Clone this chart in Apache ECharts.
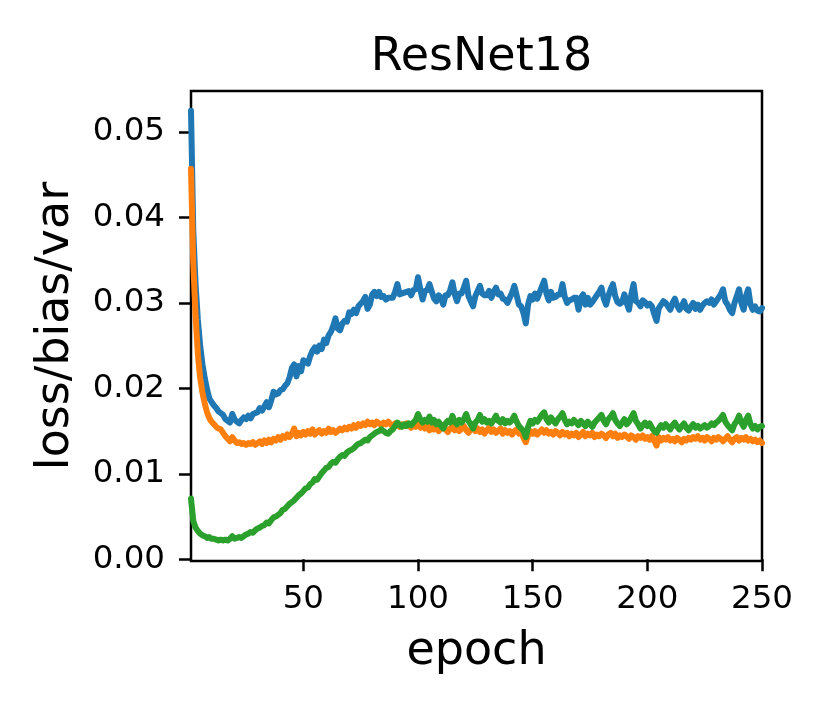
<!DOCTYPE html>
<html>
<head>
<meta charset="utf-8">
<script src="https://cdn.jsdelivr.net/npm/echarts@6/dist/echarts.min.js"></script>
<style>
  html, body { margin: 0; padding: 0; background: #fff; }
  #chart { width: 830px; height: 712px; }
</style>
</head>
<body>
<div id="chart"></div>
<script>
// ResNet18: loss = bias + var, one value per epoch (1..250)
const title = 'ResNet18'
const xTicks = [50, 100, 150, 200, 250]
const yTicks = [0, 0.01, 0.02, 0.03, 0.04, 0.05]

const loss = [
  0.0525, 0.0385, 0.0322, 0.0280, 0.0250, 0.0228, 0.0212, 0.0199, 0.0188, 0.0184,
  0.0180, 0.0177, 0.0173, 0.0171, 0.0169, 0.0164, 0.0162, 0.0160, 0.0170, 0.0164,
  0.0161, 0.0159, 0.0163, 0.0166, 0.0164, 0.0168, 0.0165, 0.0170, 0.0171, 0.0172,
  0.0177, 0.0174, 0.0179, 0.0184, 0.0178, 0.0186, 0.0196, 0.0193, 0.0194, 0.0198,
  0.0199, 0.0203, 0.0206, 0.0213, 0.0224, 0.0228, 0.0214, 0.0226, 0.0220, 0.0233,
  0.0231, 0.0229, 0.0238, 0.0244, 0.0248, 0.0243, 0.0250, 0.0246, 0.0257, 0.0253,
  0.0262, 0.0266, 0.0273, 0.0282, 0.0270, 0.0268, 0.0276, 0.0279, 0.0278, 0.0289,
  0.0287, 0.0292, 0.0288, 0.0296, 0.0299, 0.0302, 0.0307, 0.0293, 0.0298, 0.0310,
  0.0313, 0.0308, 0.0313, 0.0307, 0.0308, 0.0304, 0.0306, 0.0306, 0.0306, 0.0313,
  0.0322, 0.0310, 0.0311, 0.0312, 0.0313, 0.0314, 0.0309, 0.0315, 0.0316, 0.0330,
  0.0316, 0.0304, 0.0314, 0.0315, 0.0322, 0.0313, 0.0305, 0.0302, 0.0309, 0.0306,
  0.0298, 0.0309, 0.0309, 0.0315, 0.0324, 0.0310, 0.0302, 0.0311, 0.0311, 0.0318,
  0.0326, 0.0308, 0.0302, 0.0296, 0.0308, 0.0314, 0.0320, 0.0311, 0.0309, 0.0309,
  0.0314, 0.0306, 0.0313, 0.0318, 0.0310, 0.0311, 0.0305, 0.0304, 0.0300, 0.0306,
  0.0312, 0.0320, 0.0309, 0.0298, 0.0296, 0.0288, 0.0276, 0.0298, 0.0308, 0.0304,
  0.0311, 0.0305, 0.0312, 0.0319, 0.0326, 0.0311, 0.0303, 0.0313, 0.0306, 0.0307,
  0.0310, 0.0310, 0.0322, 0.0307, 0.0300, 0.0303, 0.0304, 0.0306, 0.0306, 0.0292,
  0.0306, 0.0310, 0.0298, 0.0306, 0.0298, 0.0301, 0.0305, 0.0309, 0.0313, 0.0318,
  0.0305, 0.0298, 0.0308, 0.0316, 0.0322, 0.0308, 0.0301, 0.0299, 0.0301, 0.0310,
  0.0300, 0.0292, 0.0310, 0.0322, 0.0302, 0.0300, 0.0296, 0.0303, 0.0301, 0.0297,
  0.0299, 0.0296, 0.0287, 0.0279, 0.0294, 0.0298, 0.0302, 0.0300, 0.0296, 0.0292,
  0.0300, 0.0305, 0.0297, 0.0292, 0.0296, 0.0302, 0.0293, 0.0291, 0.0296, 0.0300,
  0.0293, 0.0298, 0.0292, 0.0297, 0.0300, 0.0302, 0.0300, 0.0304, 0.0298, 0.0302,
  0.0306, 0.0310, 0.0316, 0.0302, 0.0298, 0.0292, 0.0288, 0.0300, 0.0308, 0.0316,
  0.0300, 0.0292, 0.0308, 0.0316, 0.0298, 0.0292, 0.0296, 0.0291, 0.0290, 0.0294,
]

const bias = [
  0.0457, 0.0345, 0.0285, 0.0240, 0.0212, 0.0195, 0.0182, 0.0172, 0.0165, 0.0161,
  0.0158, 0.0155, 0.0153, 0.0152, 0.0148, 0.0144, 0.0141, 0.0138, 0.0143, 0.0139,
  0.0136, 0.0137, 0.0135, 0.0136, 0.0134, 0.0136, 0.0135, 0.0137, 0.0134, 0.0136,
  0.0138, 0.0135, 0.0139, 0.0136, 0.0140, 0.0137, 0.0141, 0.0139, 0.0143, 0.0140,
  0.0144, 0.0142, 0.0146, 0.0143, 0.0147, 0.0153, 0.0144, 0.0148, 0.0145, 0.0149,
  0.0146, 0.0150, 0.0147, 0.0152, 0.0146, 0.0149, 0.0151, 0.0147, 0.0150, 0.0148,
  0.0153, 0.0149, 0.0151, 0.0148, 0.0150, 0.0153, 0.0151, 0.0154, 0.0152, 0.0155,
  0.0153, 0.0157, 0.0154, 0.0158, 0.0156, 0.0159, 0.0157, 0.0161, 0.0158, 0.0160,
  0.0157, 0.0161, 0.0159, 0.0157, 0.0160, 0.0158, 0.0161, 0.0158, 0.0156, 0.0159,
  0.0157, 0.0155, 0.0158, 0.0156, 0.0159, 0.0157, 0.0154, 0.0157, 0.0155, 0.0158,
  0.0154, 0.0157, 0.0153, 0.0156, 0.0151, 0.0155, 0.0152, 0.0156, 0.0150, 0.0154,
  0.0157, 0.0152, 0.0149, 0.0153, 0.0155, 0.0151, 0.0154, 0.0150, 0.0153, 0.0156,
  0.0151, 0.0148, 0.0152, 0.0155, 0.0150, 0.0153, 0.0149, 0.0152, 0.0147, 0.0151,
  0.0154, 0.0149, 0.0152, 0.0148, 0.0150, 0.0153, 0.0147, 0.0151, 0.0148, 0.0150,
  0.0146, 0.0150, 0.0152, 0.0147, 0.0149, 0.0142, 0.0137, 0.0145, 0.0150, 0.0147,
  0.0150, 0.0146, 0.0149, 0.0152, 0.0148, 0.0151, 0.0147, 0.0149, 0.0146, 0.0150,
  0.0148, 0.0145, 0.0149, 0.0146, 0.0148, 0.0144, 0.0147, 0.0145, 0.0148, 0.0143,
  0.0146, 0.0149, 0.0144, 0.0147, 0.0145, 0.0148, 0.0143, 0.0146, 0.0144, 0.0147,
  0.0145, 0.0142, 0.0146, 0.0148, 0.0144, 0.0147, 0.0142, 0.0145, 0.0143, 0.0146,
  0.0144, 0.0141, 0.0145, 0.0143, 0.0140, 0.0144, 0.0142, 0.0145, 0.0141, 0.0143,
  0.0140, 0.0144, 0.0139, 0.0133, 0.0143, 0.0139, 0.0142, 0.0140, 0.0143, 0.0139,
  0.0141, 0.0138, 0.0142, 0.0140, 0.0137, 0.0141, 0.0139, 0.0142, 0.0140, 0.0143,
  0.0141, 0.0144, 0.0140, 0.0142, 0.0139, 0.0143, 0.0141, 0.0138, 0.0142, 0.0140,
  0.0143, 0.0141, 0.0138, 0.0141, 0.0144, 0.0140, 0.0137, 0.0141, 0.0143, 0.0139,
  0.0142, 0.0140, 0.0143, 0.0139, 0.0141, 0.0138, 0.0140, 0.0137, 0.0139, 0.0136,
]

const variance = [
  0.0071, 0.0045, 0.0037, 0.0033, 0.0030, 0.0028, 0.0027, 0.0025, 0.0026, 0.0024,
  0.0024, 0.0023, 0.0022, 0.0023, 0.0022, 0.0023, 0.0022, 0.0024, 0.0027, 0.0024,
  0.0025, 0.0026, 0.0025, 0.0027, 0.0029, 0.0030, 0.0032, 0.0031, 0.0034, 0.0036,
  0.0037, 0.0039, 0.0040, 0.0043, 0.0042, 0.0046, 0.0049, 0.0050, 0.0052, 0.0054,
  0.0058, 0.0059, 0.0062, 0.0065, 0.0067, 0.0069, 0.0072, 0.0075, 0.0077, 0.0080,
  0.0083, 0.0084, 0.0088, 0.0090, 0.0094, 0.0093, 0.0097, 0.0101, 0.0104, 0.0107,
  0.0108, 0.0112, 0.0114, 0.0113, 0.0117, 0.0120, 0.0122, 0.0121, 0.0125, 0.0127,
  0.0128, 0.0130, 0.0133, 0.0135, 0.0136, 0.0138, 0.0140, 0.0139, 0.0143, 0.0145,
  0.0147, 0.0149, 0.0150, 0.0152, 0.0150, 0.0148, 0.0147, 0.0150, 0.0152, 0.0156,
  0.0160, 0.0157, 0.0155, 0.0158, 0.0156, 0.0159, 0.0157, 0.0160, 0.0163, 0.0170,
  0.0164, 0.0160, 0.0163, 0.0161, 0.0167, 0.0160, 0.0163, 0.0158, 0.0161, 0.0156,
  0.0153, 0.0159, 0.0162, 0.0160, 0.0168, 0.0161, 0.0158, 0.0163, 0.0160, 0.0164,
  0.0170, 0.0162, 0.0158, 0.0153, 0.0160, 0.0163, 0.0169, 0.0161, 0.0164, 0.0160,
  0.0162, 0.0159, 0.0163, 0.0168, 0.0162, 0.0160, 0.0164, 0.0159, 0.0162, 0.0160,
  0.0163, 0.0168, 0.0161, 0.0156, 0.0153, 0.0150, 0.0143, 0.0155, 0.0162, 0.0159,
  0.0163, 0.0161, 0.0165, 0.0169, 0.0172, 0.0164, 0.0160, 0.0166, 0.0162, 0.0159,
  0.0164, 0.0167, 0.0171, 0.0163, 0.0158, 0.0161, 0.0159, 0.0163, 0.0160, 0.0157,
  0.0162, 0.0159, 0.0156, 0.0161, 0.0158, 0.0155, 0.0160, 0.0163, 0.0166, 0.0169,
  0.0162, 0.0158, 0.0164, 0.0167, 0.0171, 0.0163, 0.0159, 0.0156, 0.0160, 0.0164,
  0.0158, 0.0161, 0.0166, 0.0171, 0.0162, 0.0158, 0.0153, 0.0157, 0.0160, 0.0156,
  0.0159, 0.0154, 0.0150, 0.0148, 0.0153, 0.0157, 0.0154, 0.0158, 0.0155, 0.0152,
  0.0157, 0.0160, 0.0155, 0.0152, 0.0156, 0.0159, 0.0154, 0.0151, 0.0155, 0.0158,
  0.0154, 0.0156, 0.0153, 0.0155, 0.0157, 0.0154, 0.0156, 0.0159, 0.0157, 0.0160,
  0.0162, 0.0165, 0.0169, 0.0161, 0.0157, 0.0154, 0.0151, 0.0158, 0.0162, 0.0168,
  0.0160, 0.0155, 0.0163, 0.0168, 0.0158, 0.0153, 0.0156, 0.0152, 0.0155, 0.0156,
]

// epoch index for every value
const epochs = loss.map((v, i) => i + 1)

const font = 'DejaVu Sans'
const colors = ['#1f77b4', '#ff7f0e', '#2ca02c']

function lineSeries(name, values, color) {
  return {
    name,
    type: 'line',
    data: values.map((v, i) => [epochs[i], v]),
    showSymbol: false,
    clip: true,
    lineStyle: { color, width: 6, cap: 'round', join: 'round' },
  }
}

const chart = echarts.init(document.getElementById('chart'), null, { renderer: 'canvas' })
chart.setOption({
  animation: false,
  backgroundColor: '#fff',
  title: {
    text: title,
    left: 476.5,
    textAlign: 'center',
    top: 30,
    textStyle: { fontFamily: font, fontSize: 46, fontWeight: 'normal', color: '#000' },
  },
  grid: {
    left: 191, right: 68, top: 91, bottom: 151,
    show: true, borderColor: '#000', borderWidth: 2.5, backgroundColor: 'transparent',
  },
  xAxis: {
    type: 'value',
    min: 1,
    max: 250,
    name: 'epoch',
    nameLocation: 'middle',
    nameGap: 68,
    nameTextStyle: { fontFamily: font, fontSize: 46, color: '#000' },
    axisLine: { show: false },
    axisTick: { show: true, length: 12, customValues: xTicks, lineStyle: { color: '#000', width: 2.5 } },
    axisLabel: { customValues: xTicks, margin: 22, fontFamily: font, fontSize: 32.5, color: '#000' },
    splitLine: { show: false },
  },
  yAxis: {
    type: 'value',
    min: -0.0002,
    max: 0.0548,
    name: 'loss/bias/var',
    nameLocation: 'middle',
    nameGap: 112,
    nameTextStyle: { fontFamily: font, fontSize: 46, color: '#000' },
    axisLine: { show: false },
    axisTick: { show: true, length: 12, customValues: yTicks, lineStyle: { color: '#000', width: 2.5 } },
    axisLabel: {
      customValues: yTicks, margin: 26, fontFamily: font, fontSize: 32.5, color: '#000',
      formatter: (v) => v.toFixed(2),
    },
    splitLine: { show: false },
  },
  series: [
    lineSeries('loss', loss, colors[0]),
    lineSeries('bias', bias, colors[1]),
    lineSeries('var', variance, colors[2]),
  ],
})
</script>
</body>
</html>
